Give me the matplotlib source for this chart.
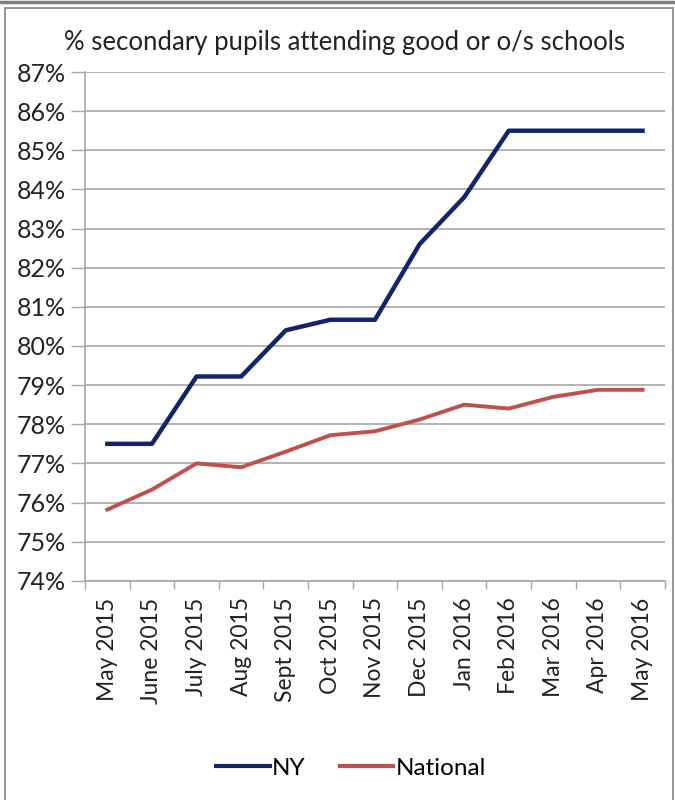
import matplotlib
import numpy as np

matplotlib.use("Agg")
import matplotlib.pyplot as plt
from matplotlib.lines import Line2D
from matplotlib.patches import Rectangle

months = [
    "May 2015", "June 2015", "July 2015", "Aug 2015", "Sept 2015", "Oct 2015",
    "Nov 2015", "Dec 2015", "Jan 2016", "Feb 2016", "Mar 2016", "Apr 2016", "May 2016",
]
ny = [77.5, 77.5, 79.22, 79.22, 80.4, 80.67, 80.67, 82.6, 83.8, 85.5, 85.5, 85.5, 85.5]
national = [75.82, 76.33, 77.0, 76.9, 77.3, 77.72, 77.82, 78.12, 78.5, 78.4, 78.7, 78.88, 78.88]
y_ticks = list(range(74, 88))

NY_COLOR = "#14236a"
NAT_COLOR = "#c0504d"
GRID = "#a6a6a6"
FONT = "Lato"

plt.rcParams["font.family"] = [FONT, "DejaVu Sans"]

fig = plt.figure(figsize=(6.75, 8), dpi=100)
ax = fig.add_axes([0.126, 0.274, 0.859, 0.636])

x = np.arange(len(months))
ax.plot(x, ny, color=NY_COLOR, lw=3.2, label="NY")
ax.plot(x, national, color=NAT_COLOR, lw=2.8, label="National")

ax.set_xlim(-0.5, len(months) - 0.5)
ax.set_ylim(74, 87)
ax.set_yticks(y_ticks)
ax.set_yticklabels([f"{v}%" for v in y_ticks], fontsize=18, color="#222222")
ax.set_xticks(x)
ax.set_xticklabels(months, rotation=90, fontsize=16.5, color="#222222")
ax.set_xticks(np.arange(len(months) + 1) - 0.5, minor=True)
ax.tick_params(axis="x", which="major", length=0, pad=12)
ax.tick_params(axis="x", which="minor", length=6, color=GRID, width=1)
ax.tick_params(axis="y", length=10, color=GRID, width=1, pad=4)

ax.grid(axis="y", color=GRID, lw=1.2)
ax.set_axisbelow(True)
for side in ["top", "right"]:
    ax.spines[side].set_visible(False)
for side in ["left", "bottom"]:
    ax.spines[side].set_color(GRID)
    ax.spines[side].set_linewidth(1.2)

fig.text(0.511, 0.947, "% secondary pupils attending good or o/s schools",
         ha="center", va="center", fontsize=18.5, color="#222222")

handles = [Line2D([], [], color=NY_COLOR, lw=3), Line2D([], [], color=NAT_COLOR, lw=3)]
fig.legend(handles, ["NY", "National"], loc="center", bbox_to_anchor=(0.52, 0.04),
           ncol=2, frameon=False, fontsize=17.5, handlelength=2.2, handletextpad=0.1,
           columnspacing=1.4)

# outer frame of the chart box
fig.add_artist(Rectangle((5 / 675, -0.01), 668 / 675, 1 - 8 / 800 + 0.01,
                         transform=fig.transFigure, fill=False, ec="#8c8c8c", lw=1.3))
fig.add_artist(Line2D([0, 1], [0.998, 0.998], transform=fig.transFigure,
                      color="#7f7f7f", lw=2.5))

fig.savefig("out.png", dpi=100)
plt.close(fig)
